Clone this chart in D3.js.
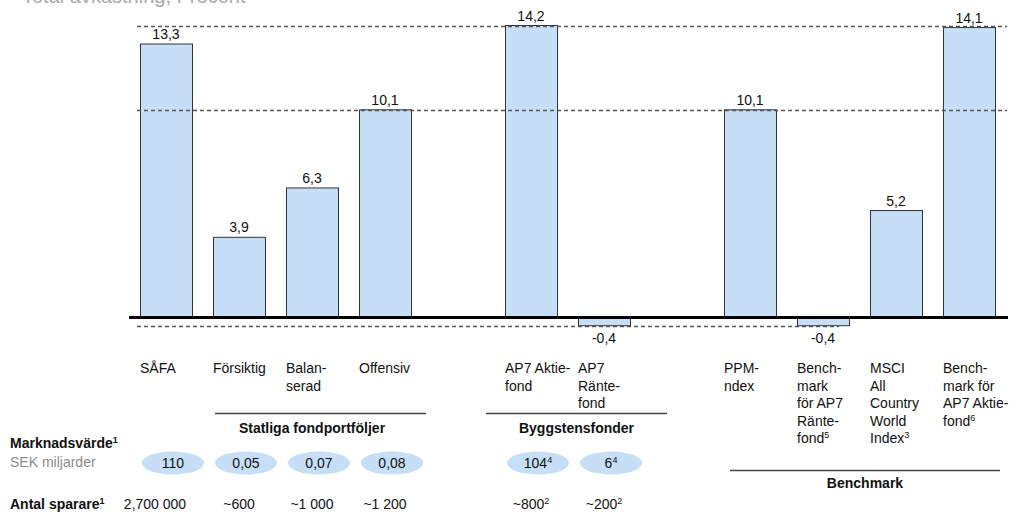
<!DOCTYPE html>
<html>
<head>
<meta charset="utf-8">
<script src="https://cdn.jsdelivr.net/npm/d3@7"></script>
<style>
  html, body { margin: 0; padding: 0; background: #fff; }
  svg { display: block; font-family: "Liberation Sans", Arial, Helvetica, sans-serif; }
</style>
</head>
<body>
<svg id="chart" width="1014" height="513"></svg>
<script>
// Slots along the x axis; the two "gap" keys leave empty space between groups
const slots = ["safa", "forsiktig", "balanserad", "offensiv", "gap1",
               "ap7aktie", "ap7ranta", "gap2",
               "ppm", "benchRanta", "msci", "benchAktie"];

// Funds with a bar
const funds = ["safa", "forsiktig", "balanserad", "offensiv",
               "ap7aktie", "ap7ranta", "ppm", "benchRanta", "msci", "benchAktie"];

// Total return, percent
const returns = [13.3, 3.9, 6.3, 10.1, 14.2, -0.4, 10.1, -0.4, 5.2, 14.1];

// Category labels, one entry per line; "^n" marks a footnote
const labelLines = [
  ["SÅFA"],
  ["Försiktig"],
  ["Balan-", "serad"],
  ["Offensiv"],
  ["AP7 Aktie-", "fond"],
  ["AP7", "Ränte-", "fond"],
  ["PPM-", "ndex"],
  ["Bench-", "mark", "för AP7", "Ränte-", "fond^5"],
  ["MSCI", "All", "Country", "World", "Index^3"],
  ["Bench-", "mark för", "AP7 Aktie-", "fond^6"]
];

// Dashed reference levels
const refLevels = [14.2, 10.1, -0.4];

// Market value (SEK billions) and number of savers for the first six funds
const tableFunds = ["safa", "forsiktig", "balanserad", "offensiv", "ap7aktie", "ap7ranta"];
const marketValues = [110, 0.05, 0.07, 0.08, 104, 6];
const marketNotes = [null, null, null, null, 4, 4];
const savers = ["2,700 000", "~600", "~1 000", "~1 200", "~800", "~200"];
const saverNotes = [null, null, null, null, 2, 2];

// Fund groups
const groups = [
  { name: "Statliga fondportföljer", from: "forsiktig", to: "offensiv" },
  { name: "Byggstensfonder", from: "ap7aktie", to: "ap7ranta" },
  { name: "Benchmark", from: "ppm", to: "benchAktie" }
];

const svg = d3.select("#chart");
const sv = d3.formatLocale({ decimal: ",", thousands: " ", grouping: [3], currency: ["", ""], minus: "-" });
const fmt1 = sv.format(".1f");
const fmtG = sv.format("~g");

const BAR_FILL = "#c6dff7";
const INK = "#111";

const x = d3.scaleBand().domain(slots).range([140, 995]).paddingInner(0.2877).paddingOuter(0);
const bw = x.bandwidth();
const cx = k => x(k) + bw / 2;
const y = d3.scaleLinear().domain([0, 14.2]).range([317.5, 25.5]);

// Text with optional "^n" superscript footnote
function richText(sel, str) {
  const parts = str.split("^");
  sel.append("tspan").text(parts[0]);
  if (parts.length > 1) {
    sel.append("tspan").attr("font-size", 9).attr("dy", -5).text(parts[1]);
  }
}

// Title (runs off the top edge)
svg.append("text")
  .attr("x", 22).attr("y", 3)
  .attr("font-size", 20).attr("fill", "#aaa")
  .text("Total avkastning, Procent");

const data = funds.map((k, i) => ({ key: k, value: returns[i], lines: labelLines[i] }));

// Bars
svg.append("g").selectAll("rect").data(data).join("rect")
  .attr("x", d => x(d.key) + 0.5)
  .attr("width", bw)
  .attr("y", d => Math.min(y(d.value), y(0)))
  .attr("height", d => Math.abs(y(d.value) - y(0)))
  .attr("fill", BAR_FILL)
  .attr("stroke", "#333")
  .attr("stroke-width", 1);

// Dashed reference lines
const refG = svg.append("g").attr("stroke", "#555").attr("stroke-width", 1.3)
  .attr("stroke-dasharray", "4,3").attr("fill", "none");
refLevels.forEach(v => {
  const x1 = x("safa") - 3;
  const x2 = v < 0 ? x("benchRanta") + bw - 10 : x("benchAktie") + bw + 12;
  refG.append("line")
    .attr("x1", x1).attr("x2", x2)
    .attr("y1", Math.round(y(v)) + 0.5).attr("y2", Math.round(y(v)) + 0.5);
});

// Zero line
svg.append("line")
  .attr("x1", x("safa") - 11).attr("x2", x("benchAktie") + bw + 13)
  .attr("y1", y(0)).attr("y2", y(0))
  .attr("stroke", "#000").attr("stroke-width", 3);

// Value labels
svg.append("g").selectAll("text").data(data).join("text")
  .attr("x", d => cx(d.key))
  .attr("y", d => d.value >= 0 ? y(d.value) - 5 : y(d.value) + 17)
  .attr("text-anchor", "middle")
  .attr("font-size", 14).attr("fill", INK)
  .text(d => fmt1(d.value));

// Category labels
const catG = svg.append("g").attr("font-size", 14).attr("fill", INK);
data.forEach(d => {
  d.lines.forEach((ln, j) => {
    const t = catG.append("text").attr("x", x(d.key)).attr("y", 373 + j * 17.5);
    richText(t, ln);
  });
});

// Group underlines and titles
const groupLayout = {
  "Statliga fondportföljer": { x1: x("forsiktig") + 2, x2: x("offensiv") + bw + 15, ly: 413.5, ty: 433, tx: (cx("forsiktig") + cx("offensiv")) / 2 },
  "Byggstensfonder": { x1: x("ap7aktie") - 19, x2: x("ap7ranta") + bw + 37, ly: 413.5, ty: 433 },
  "Benchmark": { x1: x("ppm") + 6, x2: x("benchAktie") + bw + 5, ly: 470.5, ty: 488 }
};
groups.forEach(g => {
  const L = groupLayout[g.name];
  svg.append("line").attr("x1", L.x1).attr("x2", L.x2).attr("y1", L.ly).attr("y2", L.ly)
    .attr("stroke", "#444").attr("stroke-width", 1.3);
  svg.append("text")
    .attr("x", L.tx !== undefined ? L.tx : (L.x1 + L.x2) / 2).attr("y", L.ty)
    .attr("text-anchor", "middle").attr("font-size", 14).attr("font-weight", "bold").attr("fill", INK)
    .text(g.name);
});

// Row headers
const mv = svg.append("text").attr("x", 10).attr("y", 448).attr("font-size", 14).attr("font-weight", "bold").attr("fill", INK);
richText(mv, "Marknadsvärde^1");
svg.append("text").attr("x", 10).attr("y", 467).attr("font-size", 14).attr("fill", "#8c8c8c").text("SEK miljarder");
const as = svg.append("text").attr("x", 10).attr("y", 509).attr("font-size", 14).attr("font-weight", "bold").attr("fill", INK);
richText(as, "Antal sparare^1");

// Market value bubbles
const mvG = svg.append("g");
tableFunds.forEach((k, i) => {
  const ex = cx(k) + 7;
  mvG.append("ellipse").attr("cx", ex).attr("cy", 463).attr("rx", 31).attr("ry", 11.5).attr("fill", BAR_FILL);
  const t = mvG.append("text").attr("x", ex).attr("y", 468).attr("text-anchor", "middle")
    .attr("font-size", 14).attr("fill", INK);
  richText(t, fmtG(marketValues[i]) + (marketNotes[i] ? "^" + marketNotes[i] : ""));
});

// Number of savers; the first figure sits under its row header
const svG = svg.append("g");
tableFunds.forEach((k, i) => {
  const t = svG.append("text").attr("x", i === 0 ? cx(k) - 11 : cx(k)).attr("y", 509).attr("text-anchor", "middle")
    .attr("font-size", 14).attr("fill", INK);
  richText(t, savers[i] + (saverNotes[i] ? "^" + saverNotes[i] : ""));
});
</script>
</body>
</html>
